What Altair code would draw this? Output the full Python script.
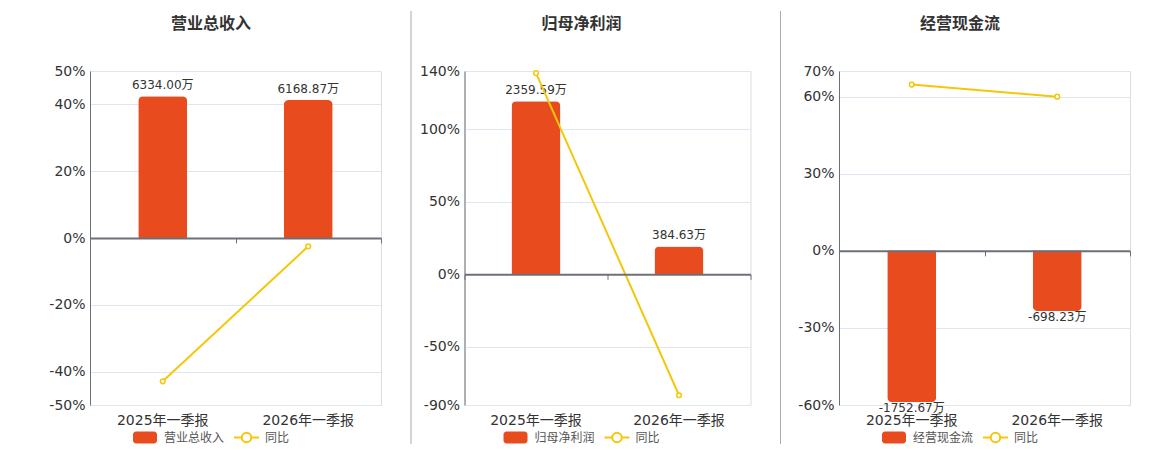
import altair as alt
import pandas as pd

categories = ["2025年一季报", "2026年一季报"]

titles = ["营业总收入", "归母净利润", "经营现金流"]
values = [
    [6334.00, 6168.87],
    [2359.59, 384.63],
    [-1752.67, -698.23],
]
yoy = [
    [-42.9, -2.5],
    [138.6, -83.3],
    [64.7, 60.0],
]
pct_domains = [[-50, 50], [-90, 140], [-60, 70]]
pct_ticks = [[-50, -40, -20, 0, 20, 40, 50], [-90, -50, 0, 50, 100, 140], [-60, -30, 0, 30, 60, 70]]
bar_domains = [[-7467, 7467], [-1774, 2773], [-1783, 2068]]
yoy_name = "同比"

FONT = "DejaVu Sans, Noto Sans CJK SC, sans-serif"
BAR = "#E84C1E"
LINE = "#F4C70A"
AXIS = "#6E7079"
GRID = "#E0E6F1"
TEXT = "#333333"

H = 334
widths = [291, 286, 291]
sep_x = [-80.5, -53.5, -58.5]
sep_color = ["#FFFFFF", "#AAAAAA", "#AAAAAA"]
centers = [121, 117, 121]


def panel(i):
    W = widths[i]
    vals = values[i]
    df = pd.DataFrame({
        "period": categories,
        "value": vals,
        "yoy": yoy[i],
        "label": [f"{v:.2f}万" for v in vals],
    })
    lo, hi = pct_domains[i]
    zero_off = H * (0 - lo) / (hi - lo)
    positive = all(v >= 0 for v in vals)

    xscale = alt.Scale(paddingInner=0, paddingOuter=0)
    bar_y = alt.Y("value:Q", scale=alt.Scale(domain=bar_domains[i], nice=False, zero=False), axis=None)
    pct_scale = alt.Scale(domain=pct_domains[i], nice=False, zero=False)

    base = alt.Chart(df)

    corner = dict(cornerRadiusTopLeft=5, cornerRadiusTopRight=5) if positive else dict(
        cornerRadiusBottomLeft=5, cornerRadiusBottomRight=5)
    bars = base.mark_bar(color=BAR, size=49, **corner).encode(
        x=alt.X("period:N", sort=categories, scale=xscale, title=None,
                axis=alt.Axis(orient="bottom", domain=False, ticks=False, labelAngle=0,
                              labelFontSize=14, labelColor=TEXT, labelFont=FONT,
                              labelPadding=8, grid=False)),
        y=bar_y,
    )
    texts = base.mark_text(
        font=FONT, fontSize=12, color=TEXT,
        baseline="alphabetic" if positive else "top",
        dy=-7 if positive else 1,
    ).encode(
        x=alt.X("period:N", sort=categories, axis=None),
        y=bar_y,
        text="label:N",
    )
    line = base.mark_line(color=LINE, strokeWidth=2).encode(
        x=alt.X("period:N", sort=categories, title=None,
                axis=alt.Axis(orient="bottom", offset=-zero_off, labels=False, domain=True,
                              domainColor=AXIS, domainWidth=2, ticks=True, tickBand="extent",
                              tickSize=5, tickColor=AXIS, tickWidth=1, grid=False, zindex=1)),
        y=alt.Y("yoy:Q", scale=pct_scale, title=None,
                axis=alt.Axis(orient="left", values=pct_ticks[i], labelExpr="datum.value + '%'",
                              grid=True, gridColor=GRID, gridWidth=1, domain=True,
                              domainColor=AXIS, ticks=False, tickSize=0, labelPadding=5,
                              labelFontSize=14, labelColor=TEXT, labelFont=FONT)),
    )
    points = base.mark_point(shape="circle", filled=True, fill="white", stroke=LINE,
                             strokeWidth=1.5, size=22, opacity=1).encode(
        x=alt.X("period:N", sort=categories, axis=None),
        y=alt.Y("yoy:Q", scale=pct_scale, axis=None),
    )

    c = centers[i]
    ly = 366.5
    name_df = pd.DataFrame({"t": [titles[i]]})
    yoy_df = pd.DataFrame({"t": [yoy_name]})
    title = alt.Chart(name_df).mark_text(font=FONT, fontSize=16, fontWeight="bold",
                                         color=TEXT, baseline="middle", align="center").encode(
        x=alt.value(c), y=alt.value(-47), text="t:N")
    leg_rect = alt.Chart(name_df).mark_rect(color=BAR, cornerRadius=3).encode(
        x=alt.value(c - 78), x2=alt.value(c - 54), y=alt.value(ly - 6), y2=alt.value(ly + 6))
    leg_text1 = alt.Chart(name_df).mark_text(font=FONT, fontSize=12, color="#555555",
                                             align="left", baseline="middle").encode(
        x=alt.value(c - 47), y=alt.value(ly), text="t:N")
    leg_line = alt.Chart(yoy_df).mark_rule(color=LINE, strokeWidth=2).encode(
        x=alt.value(c + 23), x2=alt.value(c + 48), y=alt.value(ly))
    leg_circle = alt.Chart(yoy_df).mark_point(shape="circle", filled=True, fill="white",
                                              stroke=LINE, strokeWidth=2, size=90, opacity=1).encode(
        x=alt.value(c + 35.5), y=alt.value(ly))
    leg_text2 = alt.Chart(yoy_df).mark_text(font=FONT, fontSize=12, color="#555555",
                                            align="left", baseline="middle").encode(
        x=alt.value(c + 54), y=alt.value(ly), text="t:N")
    sep = alt.Chart(name_df).mark_rule(color=sep_color[i], strokeWidth=1).encode(
        x=alt.value(sep_x[i]), y=alt.value(-60), y2=alt.value(373))

    return alt.layer(
        bars, texts, line, points, title, leg_rect, leg_text1, leg_line, leg_circle, leg_text2, sep
    ).resolve_scale(y="independent").resolve_axis(x="independent").properties(width=W, height=H)


chart = alt.hconcat(panel(0), panel(1), panel(2), spacing=27.5).properties(
    padding={"top": 2, "left": 0, "right": 0, "bottom": 0}
).configure_view(stroke=None).configure(font=FONT)

chart.save("out.html", embed_options={"renderer": "svg", "actions": False})
